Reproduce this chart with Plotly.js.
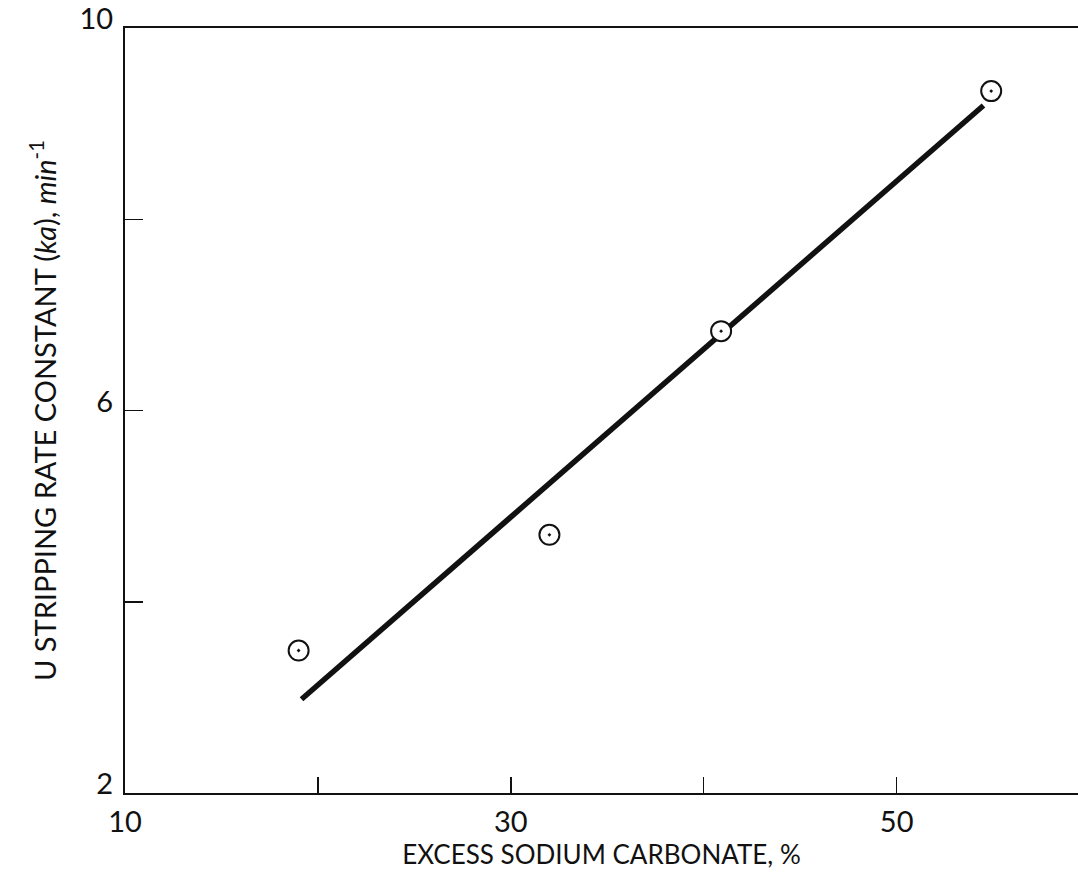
<!DOCTYPE html>
<html>
<head>
<meta charset="utf-8">
<script src="https://cdn.plot.ly/plotly-3.0.1.min.js"></script>
<style>html,body{margin:0;padding:0;background:#fff;}#chart{width:1078px;height:876px;}</style>
</head>
<body>
<div id="chart"></div>
<script>
// Measured points
const excessCarbonate = [19.0, 32.0, 40.9, 54.9];
const rateConstant = [3.49, 4.70, 6.83, 9.34];
// Fitted line endpoints as drawn
const fitX = [19.15, 54.5];
const fitY = [2.98, 9.19];
// Axis ticks
const xTickVals = [10, 20, 30, 40, 50];
const xTickText = ['10', '', '30', '', '50'];
const yTickVals = [2, 4, 6, 8, 10];
const yTickText = ['2', '', '6', '', '10'];

const fontFam = 'Lato, "DejaVu Sans", sans-serif';

const traces = [
  {
    x: fitX, y: fitY, mode: 'lines', type: 'scatter',
    line: {color: '#111', width: 5.5}, hoverinfo: 'skip', showlegend: false
  },
  {
    x: excessCarbonate, y: rateConstant, mode: 'markers', type: 'scatter',
    marker: {symbol: 'circle-dot', size: 20, color: '#fff', line: {color: '#111', width: 2}},
    showlegend: false
  }
];

const layout = {
  width: 1078, height: 876,
  margin: {l: 125, r: 0, t: 28, b: 83},
  paper_bgcolor: '#fff', plot_bgcolor: '#fff',
  font: {family: fontFam, color: '#111', size: 24},
  showlegend: false,
  xaxis: {
    range: [10, 59.4], showgrid: false, zeroline: false,
    showline: true, linecolor: '#111', linewidth: 2, mirror: true,
    ticks: 'inside', ticklen: 16, tickwidth: 1.5, tickcolor: '#111',
    tickvals: xTickVals, ticktext: xTickText,
    tickfont: {size: 29, family: fontFam},
    ticklabelstandoff: 2,
    title: {text: 'EXCESS SODIUM CARBONATE, %', font: {size: 26, family: fontFam}, standoff: 7}
  },
  yaxis: {
    range: [2, 10], showgrid: false, zeroline: false,
    showline: true, linecolor: '#111', linewidth: 2, mirror: false,
    ticks: 'inside', ticklen: 18, tickwidth: 1.5, tickcolor: '#111',
    tickvals: yTickVals, ticktext: yTickText,
    tickfont: {size: 29, family: fontFam},
    ticklabelshift: -9,
    ticklabelstandoff: 4,
    title: {text: 'U STRIPPING RATE CONSTANT (<i>ka</i>), <i>min</i><sup>-1</sup>', font: {size: 29, family: fontFam}, standoff: 14}
  }
};

Plotly.newPlot('chart', traces, layout, {displayModeBar: false, staticPlot: true});
</script>
</body>
</html>
